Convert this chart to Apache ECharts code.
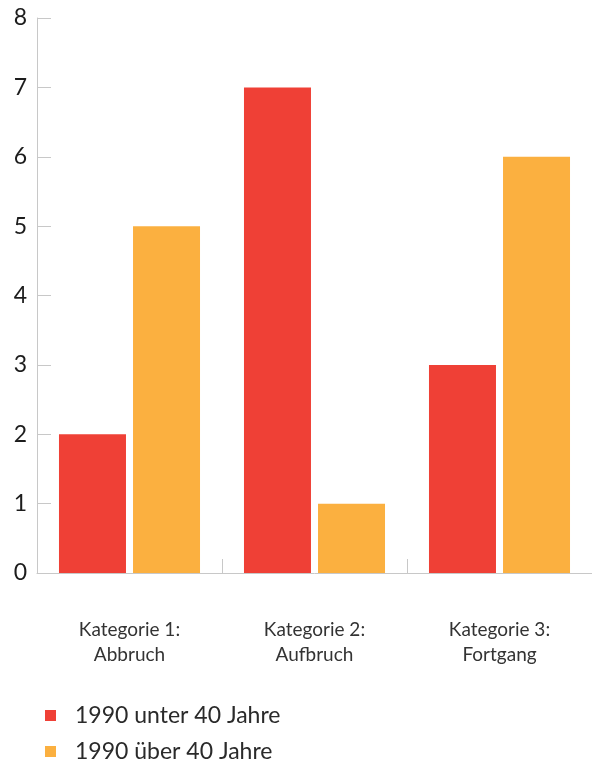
<!DOCTYPE html>
<html>
<head>
<meta charset="utf-8">
<script src="https://cdn.jsdelivr.net/npm/echarts@6/dist/echarts.min.js"></script>
<style>
  html, body { margin: 0; padding: 0; background: #fff; }
  #chart { width: 592px; height: 766px; }
</style>
</head>
<body>
<div id="chart"></div>
<script>
// Category labels and values per series
const categories = ['Kategorie 1:\nAbbruch', 'Kategorie 2:\nAufbruch', 'Kategorie 3:\nFortgang'];
const seriesNames = ['1990 unter 40 Jahre', '1990 über 40 Jahre'];
const under40 = [2, 7, 3];
const over40 = [5, 1, 6];
const yTicks = { min: 0, max: 8, interval: 1 };

const colors = ['#ef4036', '#fbb040'];
const fontFamily = 'Lato, "Open Sans", sans-serif';
const axisGray = '#c8c8c8';

const chart = echarts.init(document.getElementById('chart'), null, { renderer: 'canvas' });

// One legend block per series, stacked vertically under the chart
function legendBlock(name, top) {
  return {
    left: 45,
    top: top,
    padding: 0,
    icon: 'rect',
    itemWidth: 11,
    itemHeight: 11,
    textStyle: {
      fontFamily: fontFamily,
      fontSize: 23,
      color: '#2a2a2a',
      padding: [0, 0, 0, 14]
    },
    data: [name]
  };
}

chart.setOption({
  animation: false,
  color: colors,
  grid: { left: 37, right: 0, top: 18, bottom: 193, containLabel: false },
  legend: [
    legendBlock(seriesNames[0], 704),
    legendBlock(seriesNames[1], 740)
  ],
  xAxis: {
    type: 'category',
    data: categories,
    boundaryGap: true,
    axisLine: { show: true, lineStyle: { color: axisGray, width: 1 } },
    axisTick: { show: true, inside: true, length: 14, alignWithLabel: false, lineStyle: { color: axisGray } },
    axisLabel: {
      margin: 44,
      fontFamily: fontFamily,
      fontSize: 19,
      lineHeight: 25,
      color: '#333'
    }
  },
  yAxis: {
    type: 'value',
    min: yTicks.min,
    max: yTicks.max,
    interval: yTicks.interval,
    axisLine: { show: true, lineStyle: { color: axisGray, width: 1 } },
    axisTick: { show: true, inside: true, length: 14, lineStyle: { color: axisGray } },
    splitLine: { show: false },
    axisLabel: {
      margin: 10,
      fontFamily: fontFamily,
      fontSize: 23,
      color: '#1c1c1c'
    }
  },
  series: [
    {
      name: seriesNames[0],
      type: 'bar',
      data: under40,
      barWidth: 67,
      barGap: '10.5%'
    },
    {
      name: seriesNames[1],
      type: 'bar',
      data: over40,
      barWidth: 67,
      barGap: '10.5%'
    }
  ]
});
</script>
</body>
</html>
